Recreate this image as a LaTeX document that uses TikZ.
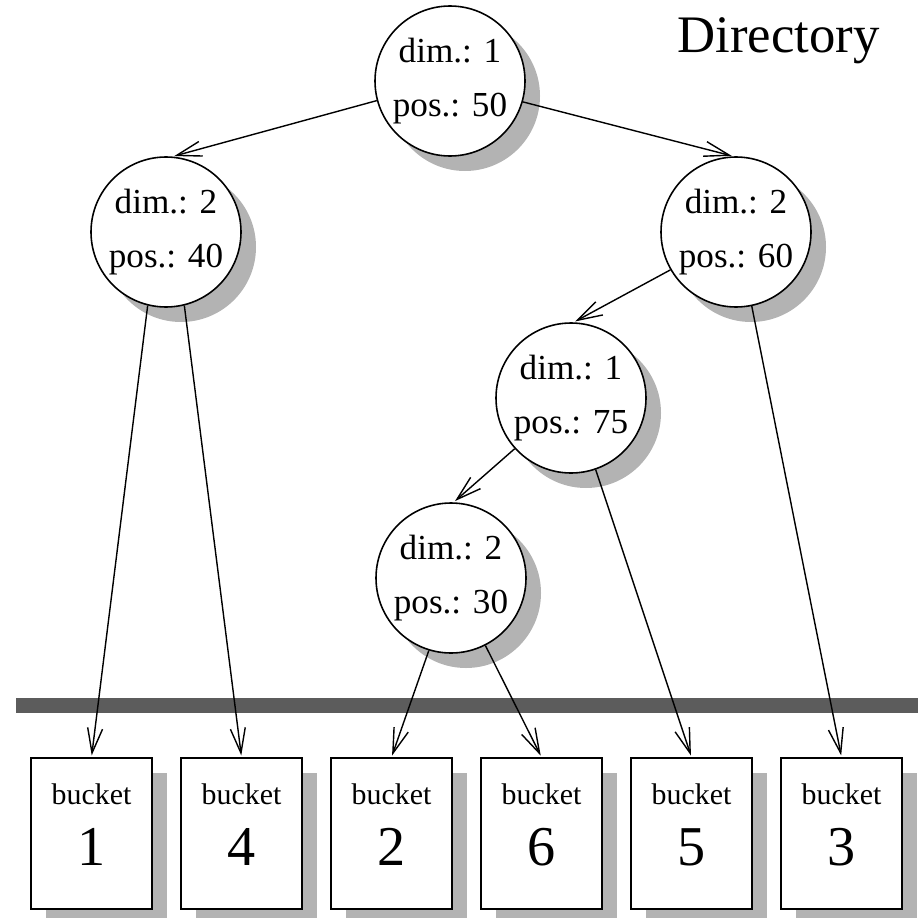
\documentclass[tikz,border=0pt]{standalone}
\usepackage{fontspec}
\setmainfont{Liberation Serif}
\usepackage{tikz}
\usetikzlibrary{arrows.meta,positioning,shadows}
\definecolor{shadowgray}{RGB}{179,179,179}
\definecolor{bargray}{RGB}{92,92,92}

\begin{document}
\begin{tikzpicture}[
    dirnode/.style={circle, draw, fill=white, line width=0.9pt, minimum size=3cm, inner sep=0pt,
                align=center, font=\fontsize{20}{30.7}\selectfont,
                drop shadow={shadow xshift=3mm, shadow yshift=-3mm, fill=shadowgray, opacity=1}},
    bucketbox/.style={rectangle, draw, fill=white, line width=0.9pt, minimum width=2.42cm,
                minimum height=3.02cm, inner sep=0pt,
                drop shadow={shadow xshift=3mm, shadow yshift=-3mm, fill=shadowgray, opacity=1}},
    bkt/.style={anchor=base, inner sep=0pt, font=\fontsize{17}{20}\selectfont},
    num/.style={anchor=base, inner sep=0pt, font=\fontsize{32}{36}\selectfont},
    arr/.style={-{Straight Barb[length=5mm, width=3mm]}, line width=0.8pt, shorten >=1pt}
]
    \useasboundingbox (0,0) rectangle (18.36,-18.36);

    % directory tree
    \node[anchor=base west, inner sep=0pt, font=\fontsize{30}{34}\selectfont] (title) at (13.54,-1.06) {Directory};
    \node[dirnode] (root) at (9.0,-1.62) {dim.: 1\\pos.: 50};
    \node[dirnode] (left) at (3.32,-4.64) {dim.: 2\\pos.: 40};
    \node[dirnode] (right) at (14.72,-4.64) {dim.: 2\\pos.: 60};
    \node[dirnode] (rl) at (11.42,-7.96) {dim.: 1\\pos.: 75};
    \node[dirnode] (rll) at (9.02,-11.56) {dim.: 2\\pos.: 30};

    % separator
    \fill[bargray] (0.32,-13.96) rectangle (18.36,-14.26);

    % buckets
    \node[bucketbox] (bk1) at (1.83,-16.67) {};
    \node[bucketbox] (bk4) at (4.83,-16.67) {};
    \node[bucketbox] (bk2) at (7.83,-16.67) {};
    \node[bucketbox] (bk6) at (10.83,-16.67) {};
    \node[bucketbox] (bk5) at (13.83,-16.67) {};
    \node[bucketbox] (bk3) at (16.83,-16.67) {};

    \node[bkt] (bk1t) at ([yshift=5.9mm]bk1.center) {bucket};
    \node[num] (bk1n) at ([yshift=-6.3mm]bk1.center) {1};
    \node[bkt] (bk4t) at ([yshift=5.9mm]bk4.center) {bucket};
    \node[num] (bk4n) at ([yshift=-6.3mm]bk4.center) {4};
    \node[bkt] (bk2t) at ([yshift=5.9mm]bk2.center) {bucket};
    \node[num] (bk2n) at ([yshift=-6.3mm]bk2.center) {2};
    \node[bkt] (bk6t) at ([yshift=5.9mm]bk6.center) {bucket};
    \node[num] (bk6n) at ([yshift=-6.3mm]bk6.center) {6};
    \node[bkt] (bk5t) at ([yshift=5.9mm]bk5.center) {bucket};
    \node[num] (bk5n) at ([yshift=-6.3mm]bk5.center) {5};
    \node[bkt] (bk3t) at ([yshift=5.9mm]bk3.center) {bucket};
    \node[num] (bk3n) at ([yshift=-6.3mm]bk3.center) {3};

    \draw[arr] (root.195) -- (left.85);
    \draw[arr] (root.-16) -- (right.92);
    \draw[arr] (right.210) -- (rl.88);
    \draw[arr] (rl.222) -- (rll.88);

    \draw[arr] (left.256) -- (bk1.north);
    \draw[arr] (left.284) -- (bk4.north);
    \draw[arr] (rll.253) -- (bk2.north);
    \draw[arr] (rll.297) -- (bk6.north);
    \draw[arr] (rl.289) -- (bk5.north);
    \draw[arr] (right.282) -- (bk3.north);
\end{tikzpicture}
\end{document}
